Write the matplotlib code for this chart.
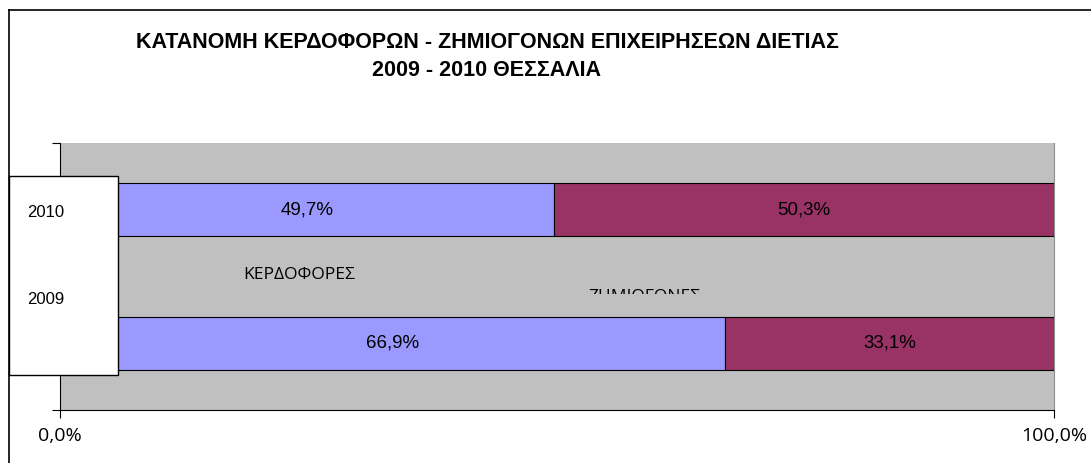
import matplotlib
matplotlib.use("Agg")
import matplotlib.pyplot as plt
from matplotlib.patches import Rectangle
from matplotlib.lines import Line2D

years = ['2009', '2010']
profit = [66.9, 49.7]
loss = [33.1, 50.3]
series_names = ['ΚΕΡΔΟΦΟΡΕΣ', 'ΖΗΜΙΟΓΟΝΕΣ']
x_tick_labels = ['0,0%', '100,0%']
title_lines = ['ΚΑΤΑΝΟΜΗ ΚΕΡΔΟΦΟΡΩΝ - ΖΗΜΙΟΓΟΝΩΝ ΕΠΙΧΕΙΡΗΣΕΩΝ ΔΙΕΤΙΑΣ',
               '2009 - 2010 ΘΕΣΣΑΛΙΑ']

W, H = 1091, 463
fig = plt.figure(figsize=(W / 100, H / 100), dpi=100)
fig.patch.set_facecolor('white')

def fx(px):
    return px / W

def fy(py):
    return 1 - py / H

ax = fig.add_axes([fx(60), fy(410), fx(1054) - fx(60), fy(143) - fy(410)])
ax.set_facecolor('#C0C0C0')

total = [p + l for p, l in zip(profit, loss)]
pf = [p / t for p, t in zip(profit, total)]
lf = [l / t for l, t in zip(loss, total)]
ypos = list(range(len(years)))
ax.barh(ypos, pf, height=0.4, color='#9999FF', edgecolor='black', linewidth=0.8)
ax.barh(ypos, lf, left=pf, height=0.4, color='#993366', edgecolor='black', linewidth=0.8)

def fmt(v):
    return f'{v:.1f}'.replace('.', ',') + '%'

for i in ypos:
    ax.text(pf[i] / 2, i, fmt(profit[i]), ha='center', va='center',
            fontsize=13.5, family='Liberation Sans', color='black')
    ax.text(pf[i] + lf[i] / 2, i, fmt(loss[i]), ha='center', va='center',
            fontsize=13.5, family='Liberation Sans', color='black')

ax.set_xlim(0, 1)
ax.set_ylim(-0.5, 1.5)
ax.set_xticks([0, 1])
ax.set_xticklabels(x_tick_labels, family='Open Sans', fontsize=14)
ax.set_yticks([-0.5, 0.5, 1.5])
ax.set_yticklabels([])
ax.tick_params(axis='x', direction='out', length=5.5, width=0.8, pad=7, color='black')
ax.tick_params(axis='y', direction='out', length=6, width=0.8, color='black')
ax.spines['top'].set_visible(False)
ax.spines['right'].set_color('#909090')
ax.spines['left'].set_color('black')
ax.spines['bottom'].set_color('black')
ax.spines['left'].set_linewidth(0.8)
ax.spines['bottom'].set_linewidth(0.8)

# outer chart border (top and left visible)
fig.add_artist(Line2D([fx(9), 1], [fy(10), fy(10)], color='black', linewidth=1.2))
fig.add_artist(Line2D([fx(9), fx(9)], [fy(10), 0], color='black', linewidth=1.2))

# white box with year labels
fig.add_artist(Rectangle((fx(9), fy(375)), fx(118) - fx(9), fy(176) - fy(375),
                         transform=fig.transFigure, facecolor='white',
                         edgecolor='black', linewidth=1.0, zorder=5))
year_y = {'2010': 213, '2009': 299}
for yr in years:
    fig.text(fx(27), fy(year_y[yr]), yr, ha='left', va='center', fontsize=12,
             family='Liberation Sans', zorder=6)

# series labels
fig.text(fx(243), fy(275), series_names[0], ha='left', va='center', fontsize=12.5,
         family='Open Sans', zorder=6)
t2 = fig.text(fx(588), fy(297), series_names[1], ha='left', va='center', fontsize=12.5,
              family='Open Sans', zorder=6)
clip = Rectangle((0, fy(294)), 1, 1 - fy(294), transform=fig.transFigure)
t2.set_clip_path(clip)

# title
fig.text(fx(487), fy(42), title_lines[0], ha='center', va='center', fontsize=15.5,
         fontweight='bold', family='Liberation Sans')
fig.text(fx(487), fy(70), title_lines[1], ha='center', va='center', fontsize=15.5,
         fontweight='bold', family='Liberation Sans')

fig.savefig('out.png', dpi=100)
